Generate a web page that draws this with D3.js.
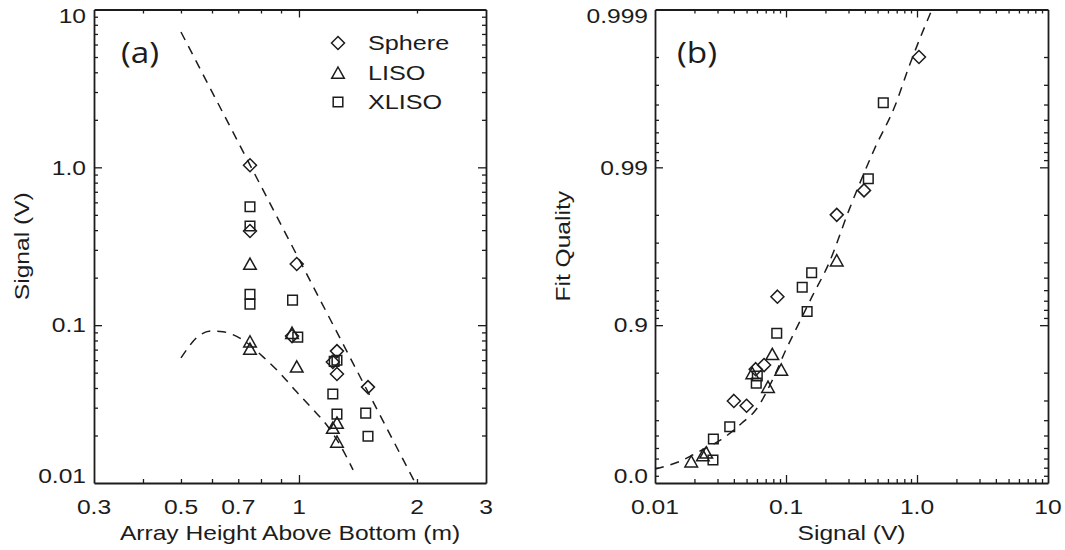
<!DOCTYPE html>
<html>
<head>
<meta charset="utf-8">
<title>Signal vs array height / fit quality</title>
<script src="https://cdnjs.cloudflare.com/ajax/libs/d3/7.8.5/d3.min.js"></script>
<style>
    body { margin: 0; background: #fff; }
    svg { display: block; font-family: "Liberation Sans", Arial, sans-serif; }
</style>
</head>
<body>
<div id="chart"></div>
<script>
    ////////////////////////////////////////////////////////////
    //////////////////// Data ////////////////
    ////////////////////////////////////////////////////////////

    // panel (a): [array height (m), signal (V)]
    var sphereA = [[0.75, 1.03], [0.75, 0.395], [0.987, 0.244], [0.96, 0.0853],
                   [1.25, 0.0685], [1.22, 0.0584], [1.25, 0.049], [1.50, 0.0405]];
    var lisoA   = [[0.75, 0.244], [0.75, 0.0785], [0.75, 0.0706], [0.96, 0.089],
                   [0.987, 0.0545], [1.25, 0.024], [1.22, 0.0223], [1.25, 0.0182]];
    var xlisoA  = [[0.75, 0.563], [0.75, 0.425], [0.75, 0.157], [0.75, 0.136],
                   [0.963, 0.144], [0.993, 0.084], [1.25, 0.060], [1.23, 0.0590],
                   [1.22, 0.0366], [1.25, 0.0273], [1.48, 0.0277], [1.50, 0.0198]];
    // dashed model curves in (a)
    var upperFitA = [[0.50, 7.2], [1.11, 0.159], [1.98, 0.01]];
    var lowerFitA = [[0.50, 0.062], [0.559, 0.0866], [0.60, 0.0918], [0.640, 0.0908], [0.72, 0.0804],
                     [0.81, 0.063], [0.894, 0.0497], [0.986, 0.0378], [1.078, 0.0298], [1.177, 0.0233],
                     [1.273, 0.0174], [1.374, 0.0121]];

    // panel (b): [signal (V), fit quality]
    var sphereB = [[1.035, 0.998], [0.394, 0.986], [0.244, 0.980], [0.086, 0.934],
                   [0.068, 0.821], [0.0587, 0.81], [0.050, 0.676], [0.040, 0.698]];
    var lisoB   = [[0.244, 0.961], [0.0786, 0.847], [0.092, 0.808], [0.0553, 0.798],
                   [0.0729, 0.753], [0.0246, 0.357], [0.0232, 0.33], [0.0189, 0.267]];
    var xlisoB  = [[0.553, 0.9961], [0.425, 0.9882], [0.157, 0.9535], [0.133, 0.9425],
                   [0.145, 0.918], [0.085, 0.8875], [0.0604, 0.79], [0.0593, 0.767],
                   [0.0372, 0.56], [0.0279, 0.474], [0.0277, 0.285]];
    var fitB    = [[0.0100, 0.185], [0.01525, 0.267], [0.02285, 0.382], [0.0317, 0.466],
                   [0.0461, 0.583], [0.0587, 0.655], [0.081, 0.788], [0.0995, 0.856],
                   [0.1257, 0.903], [0.158, 0.934], [0.213, 0.9596], [0.303, 0.9814],
                   [0.47, 0.99224], [0.688, 0.99603], [0.869, 0.9977], [1.30, 0.999]];

    // tick labels
    var heightTicks  = [0.3, 0.5, 0.7, 1, 2, 3],
        heightLabels = ["0.3", "0.5", "0.7", "1", "2", "3"];
    var signalTicks  = [0.01, 0.1, 1, 10],
        signalLabels = ["0.01", "0.1", "1.0", "10"];
    var fitTicks     = [0.0, 0.9, 0.99, 0.999],
        fitLabels    = ["0.0", "0.9", "0.99", "0.999"];

    var seriesNames = ["Sphere", "LISO", "XLISO"],
        seriesShape = ["diamond", "triangle", "square"];

    ////////////////////////////////////////////////////////////
    ///////////////////////// Setup ////////////////////////////
    ////////////////////////////////////////////////////////////
    var width = 1065,
        height = 550,
        ink = "#1c1c1c";

    var svg = d3.select("#chart").append("svg")
        .attr("width", width)
        .attr("height", height);

    var PA = {left: 94, right: 486, top: 9.5, bottom: 483},
        PB = {left: 655, right: 1048, top: 9.5, bottom: 483};

    var xA = d3.scaleLog().domain([0.3, 3]).range([PA.left, PA.right]);
    var yA = d3.scaleLog().domain([0.01, 10]).range([PA.bottom, PA.top]);
    var xB = d3.scaleLog().domain([0.01, 10]).range([PB.left, PB.right]);
    // fit quality is shown on a log scale of (1 - q)
    var yMis = d3.scaleLog().domain([1, 0.001]).range([PB.bottom, PB.top]);
    var yB = function(q) { return yMis(1 - q); };

    var shapes = {
        diamond: "M0,-6.5L6.5,0L0,6.5L-6.5,0Z",
        triangle: "M0,-6L6.3,5.3L-6.3,5.3Z",
        square: "M-4.8,-4.8H4.8V4.8H-4.8Z"
    };

    function isDecade(v) {
        var l = Math.log10(v);
        return Math.abs(l - Math.round(l)) < 1e-6;
    }

    //frame with inward ticks on all four sides
    function drawFrame(g, x, y) {
        var xr = x.range(), yr = y.range();
        var xt = x.ticks().filter(function(v) { var p = x(v); return p > xr[0] + 1 && p < xr[1] - 1; });
        var yt = y.ticks().filter(function(v) { var p = y(v); return p < yr[0] - 1 && p > yr[1] + 1; });
        var sides = [
            [d3.axisBottom(x), "translate(0," + yr[0] + ")", xt],
            [d3.axisTop(x), "translate(0," + yr[1] + ")", xt],
            [d3.axisLeft(y), "translate(" + xr[0] + ",0)", yt],
            [d3.axisRight(y), "translate(" + xr[1] + ",0)", yt]
        ];
        sides.forEach(function(s) {
            var maj = s[2].filter(isDecade), min = s[2].filter(function(v) { return !isDecade(v); });
            g.append("g").attr("transform", s[1]).attr("color", ink)
                .call(s[0].tickValues(min).tickSize(-4).tickSizeOuter(0).tickFormat(""))
                .call(function(a) { a.selectAll("line").attr("stroke-width", 1.3); a.select(".domain").attr("stroke-width", 1.8); });
            g.append("g").attr("transform", s[1]).attr("color", ink)
                .call(s[0].tickValues(maj).tickSize(-8).tickSizeOuter(0).tickFormat(""))
                .call(function(a) { a.select(".domain").remove(); a.selectAll("line").attr("stroke-width", 1.3); });
        });
    }

    function stretchText(g, x, y, str, anchor, size) {
        return g.append("text")
            .attr("transform", "translate(" + x + "," + y + ") scale(1.2,1)")
            .attr("text-anchor", anchor)
            .attr("dy", "0.35em")
            .attr("fill", ink)
            .style("font-size", size + "px")
            .text(str);
    }

    function clampY(p, P) { return Math.max(P.top + 6, Math.min(P.bottom - 7.5, p)); }

    function drawPoints(g, data, shape, x, y) {
        g.selectAll(null).data(data).enter().append("path")
            .attr("d", shapes[shape])
            .attr("transform", function(d) { return "translate(" + x(d[0]) + "," + y(d[1]) + ")"; })
            .attr("fill", "none")
            .attr("stroke", ink)
            .attr("stroke-width", 1.5);
    }

    function drawCurve(g, data, x, y, curve) {
        g.append("path")
            .datum(data)
            .attr("d", d3.line().x(function(d) { return x(d[0]); }).y(function(d) { return y(d[1]); }).curve(curve))
            .attr("fill", "none")
            .attr("stroke", ink)
            .attr("stroke-width", 1.5)
            .attr("stroke-dasharray", "9,7");
    }

    ////////////////////////////////////////////////////////////
    /////////////////////// Panel (a) //////////////////////////
    ////////////////////////////////////////////////////////////
    var gA = svg.append("g");
    drawCurve(gA, upperFitA, xA, yA, d3.curveLinear);
    drawCurve(gA, lowerFitA, xA, yA, d3.curveMonotoneX);
    [sphereA, lisoA, xlisoA].forEach(function(s, i) { drawPoints(gA, s, seriesShape[i], xA, yA); });
    drawFrame(gA, xA, yA);

    heightTicks.forEach(function(v, i) { stretchText(gA, xA(v), 506.5, heightLabels[i], "middle", 20.5); });
    signalTicks.forEach(function(v, i) { stretchText(gA, 86, clampY(yA(v), PA), signalLabels[i], "end", 20.5); });

    stretchText(gA, (PA.left + PA.right) / 2, 533, "Array Height Above Bottom (m)", "middle", 20.5);
    gA.append("text")
        .attr("transform", "translate(29," + (PA.top + PA.bottom) / 2 + ") rotate(-90) scale(1.2,1)")
        .attr("text-anchor", "middle")
        .attr("fill", ink)
        .style("font-size", "20.5px")
        .text("Signal (V)");

    gA.append("text")
        .attr("transform", "translate(121,63) scale(1.15,1)")
        .attr("fill", ink)
        .style("font-family", "'Open Sans', sans-serif")
        .style("font-size", "29px")
        .text("(a)");

    //legend
    var legend = gA.append("g");
    seriesNames.forEach(function(name, i) {
        var ly = [43, 73, 102][i];
        legend.append("path")
            .attr("d", shapes[seriesShape[i]])
            .attr("transform", "translate(338," + ly + ")")
            .attr("fill", "none")
            .attr("stroke", ink)
            .attr("stroke-width", 1.5);
        stretchText(legend, 368, ly, name, "start", 21);
    });

    ////////////////////////////////////////////////////////////
    /////////////////////// Panel (b) //////////////////////////
    ////////////////////////////////////////////////////////////
    var gB = svg.append("g");
    drawCurve(gB, fitB, xB, yB, d3.curveMonotoneX);
    [sphereB, lisoB, xlisoB].forEach(function(s, i) { drawPoints(gB, s, seriesShape[i], xB, yB); });
    drawFrame(gB, xB, yMis);

    signalTicks.forEach(function(v, i) { stretchText(gB, xB(v), 506.5, signalLabels[i], "middle", 20.5); });
    fitTicks.forEach(function(v, i) { stretchText(gB, 648, clampY(yB(v), PB), fitLabels[i], "end", 20.5); });

    stretchText(gB, (PB.left + PB.right) / 2, 533, "Signal (V)", "middle", 20.5);
    gB.append("text")
        .attr("transform", "translate(569.5," + (PB.top + PB.bottom) / 2 + ") rotate(-90) scale(1.2,1)")
        .attr("text-anchor", "middle")
        .attr("fill", ink)
        .style("font-size", "20.5px")
        .text("Fit Quality");

    gB.append("text")
        .attr("transform", "translate(677,63) scale(1.15,1)")
        .attr("fill", ink)
        .style("font-family", "'Open Sans', sans-serif")
        .style("font-size", "29px")
        .text("(b)");
</script>
</body>
</html>
